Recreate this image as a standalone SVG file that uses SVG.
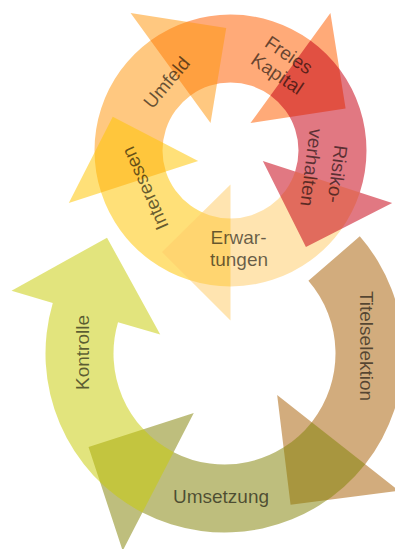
<svg xmlns="http://www.w3.org/2000/svg" width="395" height="549" viewBox="0 0 395 549">
<style>
.top { fill-opacity: 0.53; }
.bot { fill-opacity: 0.52; }
.lbl { font-family: "Liberation Sans", Arial, sans-serif; font-size: 19px; fill: #000; fill-opacity: 0.6; text-anchor: middle; }
.c { dominant-baseline: central; }
</style>
<rect width="395" height="549" fill="#fff"/>
<g id="cycle-top">
  <g id="node-freies-kapital">
    <path class="top" fill="#FF5F00" d="M150.56,40.47 A136,136 0 0 1 310.44,40.47 L330.42,12.97 L345.61,108.60 L250.48,122.99 L270.47,95.49 A68,68 0 0 0 190.53,95.49 Z"/>
  </g>
  <g id="node-umfeld">
    <path class="top" fill="#FF970F" d="M101.16,192.53 A136,136 0 0 1 150.56,40.47 L130.58,12.97 L226.22,28.08 L210.52,122.99 L190.53,95.49 A68,68 0 0 0 165.83,171.51 Z"/>
  </g>
  <g id="node-interessen">
    <path class="top" fill="#FFC400" d="M230.5,286.5 A136,136 0 0 1 101.16,192.53 L68.82,203.03 L112.75,116.73 L198.16,161.01 L165.83,171.51 A68,68 0 0 0 230.5,218.5 Z"/>
  </g>
  <g id="node-erwartungen">
    <path class="top" fill="#FFCC6A" d="M359.84,192.53 A136,136 0 0 1 230.5,286.5 L230.5,320.5 L162.00,252.06 L230.5,184.5 L230.5,218.5 A68,68 0 0 0 295.17,171.51 Z"/>
  </g>
  <g id="node-risikoverhalten">
    <path class="top" fill="#C60013" d="M310.44,40.47 A136,136 0 0 1 359.84,192.53 L392.18,203.03 L305.92,247.03 L262.84,161.01 L295.17,171.51 A68,68 0 0 0 270.47,95.49 Z"/>
  </g>
</g>
<g id="cycle-bottom">
  <g id="node-titelselektion">
    <path class="bot" fill="#A85F05" d="M359.80,236.30 A179,179 0 0 1 365.20,464.20 L399.00,490.79 L290.56,504.70 L277.16,394.93 L311.75,422.14 A111,111 0 0 0 308.40,280.82 Z"/>
  </g>
  <g id="node-umsetzung">
    <path class="bot" fill="#828205" d="M365.20,464.20 A179,179 0 0 1 142.40,512.56 L122.68,550.77 L88.52,446.96 L193.77,413.04 L173.59,452.14 A111,111 0 0 0 311.75,422.14 Z"/>
  </g>
  <g id="node-kontrolle">
    <path class="bot" fill="#C7CB05" d="M142.40,512.56 A179,179 0 0 1 52.78,302.96 L11.53,290.82 L107.02,237.65 L160.23,334.58 L118.02,322.16 A111,111 0 0 0 173.59,452.14 Z"/>
  </g>
</g>
<g id="labels">
  <text id="label-umfeld" class="lbl c" transform="translate(166.7,82.5) rotate(-50)">Umfeld</text>
  <g id="label-freies-kapital">
    <text class="lbl c" transform="translate(289,55) rotate(34)">Freies</text>
    <text class="lbl c" transform="translate(277.3,73.8) rotate(34)">Kapital</text>
  </g>
  <g id="label-risikoverhalten">
    <text class="lbl c" transform="translate(337.5,174) rotate(97)">Risiko-</text>
    <text class="lbl c" transform="translate(311.5,167.5) rotate(97)">verhalten</text>
  </g>
  <g id="label-erwartungen">
    <text class="lbl" x="238.5" y="244">Erwar-</text>
    <text class="lbl" x="239" y="266">tungen</text>
  </g>
  <text id="label-interessen" class="lbl c" transform="translate(145,188.3) rotate(-114)">Interessen</text>
  <text id="label-titelselektion" class="lbl c" transform="translate(366,346) rotate(90)">Titelselektion</text>
  <text id="label-kontrolle" class="lbl c" transform="translate(82.5,352.5) rotate(-90)">Kontrolle</text>
  <text id="label-umsetzung" class="lbl" x="221" y="502.7">Umsetzung</text>
</g>
</svg>
